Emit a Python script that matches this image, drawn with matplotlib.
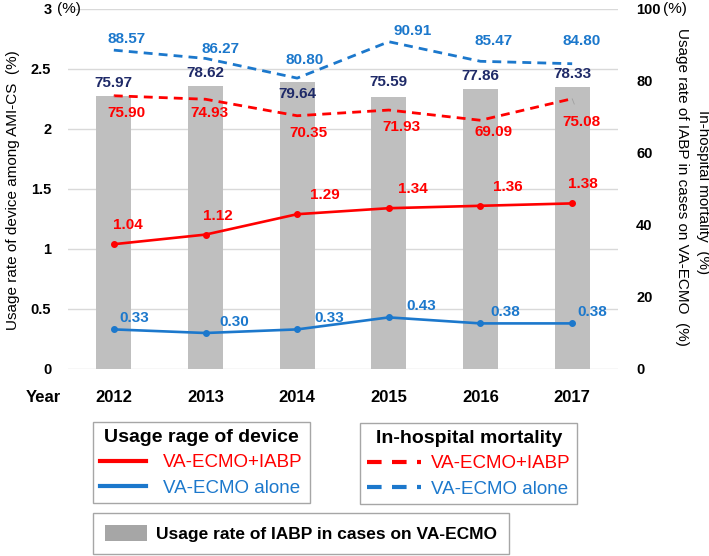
import numpy as np
import matplotlib
matplotlib.use("Agg")
import matplotlib.pyplot as plt
from matplotlib.lines import Line2D
from matplotlib.patches import Patch

plt.rcParams['font.family'] = ['Liberation Sans', 'DejaVu Sans']

# ---------------- data ----------------
years = ['2012', '2013', '2014', '2015', '2016', '2017']
iabp_usage_rate = [75.97, 78.62, 79.64, 75.59, 77.86, 78.33]      # bars, right axis (%)
usage_ecmo_iabp = [1.04, 1.12, 1.29, 1.34, 1.36, 1.38]           # left axis (%)
usage_ecmo_alone = [0.33, 0.30, 0.33, 0.43, 0.38, 0.38]          # left axis (%)
mort_ecmo_iabp = [75.90, 74.93, 70.35, 71.93, 69.09, 75.08]      # right axis (%)
mort_ecmo_alone = [88.57, 86.27, 80.80, 90.91, 85.47, 84.80]     # right axis (%)
left_ticks = [0, 0.5, 1, 1.5, 2, 2.5, 3]
left_tick_labels = ['0', '0.5', '1', '1.5', '2', '2.5', '3']
right_ticks = [0, 20, 40, 60, 80, 100]

# ---------------- styles ----------------
RED = '#FF0000'
BLUE = '#1C78CC'
NAVY = '#1F2A68'
BARC = '#BFBFBF'
GRID = '#D9D9D9'
W, H = 709, 556
PX = 0.72  # points per pixel at 100 dpi

fig = plt.figure(figsize=(W / 100, H / 100), dpi=100)
ax = fig.add_axes([68 / W, 1 - 369 / H, 550 / W, 360 / H])
ax2 = ax.twinx()
ax3 = ax.twinx()

x = np.arange(len(years))
for a in (ax, ax2, ax3):
    a.set_xlim(-0.5, len(years) - 0.5)
    for s in a.spines.values():
        s.set_visible(False)
ax.set_ylim(0, 3)
ax3.set_ylim(0, 3)
ax2.set_ylim(0, 100)

# grid (back axes)
ax.set_yticks(left_ticks)
ax.set_yticklabels(left_tick_labels, fontsize=10.5, fontweight='bold')
ax.yaxis.grid(True, color=GRID, lw=1)
ax.set_axisbelow(True)
ax.tick_params(axis='y', length=0, pad=12)
ax.set_xticks(x)
ax.set_xticklabels(years, fontsize=12, fontweight='bold')
ax.tick_params(axis='x', length=0, pad=15)

ax2.set_yticks(right_ticks)
ax2.set_yticklabels([str(t) for t in right_ticks], fontsize=10.5, fontweight='bold')
ax2.tick_params(axis='y', length=0, pad=13)
ax3.set_yticks([])
ax3.tick_params(axis='both', length=0)

# bars
ax2.bar(x, iabp_usage_rate, width=0.38, color=BARC, zorder=1)
bar_off = [13, 13, -12, 15, 13, 13]
for xi, v, o in zip(x, iabp_usage_rate, bar_off):
    ax2.annotate(f'{v:.2f}', (xi, v), xytext=(0, o * PX), textcoords='offset points',
                 ha='center', va='center', color=NAVY, fontsize=11, fontweight='bold')

# dashed mortality lines
ax2.plot(x, mort_ecmo_iabp, color=RED, lw=2, dashes=(3.2, 2.2), zorder=3)
ax2.plot(x, mort_ecmo_alone, color=BLUE, lw=2, dashes=(3.2, 2.2), zorder=3)
red_d_off = [(13, -17), (4, -14), (11, -17), (13, -17), (13, -12), (9, -23)]
for i, (xi, v, o) in enumerate(zip(x, mort_ecmo_iabp, red_d_off)):
    ap = None
    if i in (0, 5):
        ap = dict(arrowstyle='-', color='#A0A0A0', lw=0.6, shrinkA=6, shrinkB=0)
    ax2.annotate(f'{v:.2f}', (xi, v), xytext=(o[0] * PX, o[1] * PX), textcoords='offset points',
                 ha='center', va='center', color=RED, fontsize=11, fontweight='bold',
                 arrowprops=ap)
blue_d_off = [(13, 11), (15, 9), (7, 18), (24, 11), (13, 20), (9, 23)]
for xi, v, o in zip(x, mort_ecmo_alone, blue_d_off):
    ax2.annotate(f'{v:.2f}', (xi, v), xytext=(o[0] * PX, o[1] * PX), textcoords='offset points',
                 ha='center', va='center', color=BLUE, fontsize=11, fontweight='bold')

# solid usage lines (front axes)
ax3.plot(x, usage_ecmo_iabp, color=RED, lw=1.9, marker='o', markersize=4, zorder=4)
ax3.plot(x, usage_ecmo_alone, color=BLUE, lw=1.9, marker='o', markersize=4, zorder=4)
red_s_off = [14, 12, 28, 24, 27, 11]
for xi, v, o in zip(x, usage_ecmo_iabp, red_s_off):
    ax3.annotate(f'{v:.2f}', (xi, v), xytext=(o * PX, 19 * PX), textcoords='offset points',
                 ha='center', va='center', color=RED, fontsize=11, fontweight='bold')
blue_s_off = [20, 29, 32, 32, 25, 20]
for xi, v, o in zip(x, usage_ecmo_alone, blue_s_off):
    ax3.annotate(f'{v:.2f}', (xi, v), xytext=(o * PX, 11 * PX), textcoords='offset points',
                 ha='center', va='center', color=BLUE, fontsize=11, fontweight='bold')

# (%) markers next to top ticks
fig.text(57 / W, 1 - 9 / H, '(%)', fontsize=11, ha='left', va='center')
fig.text(663 / W, 1 - 9 / H, '(%)', fontsize=11, ha='left', va='center')

# axis titles
fig.text(13 / W, 1 - 190 / H, 'Usage rate of device among AMI-CS  (%)', fontsize=11,
         rotation=90, ha='center', va='center')
fig.text(682 / W, 1 - 187 / H, 'Usage rate of IABP in cases on VA-ECMO  (%)', fontsize=11,
         rotation=270, ha='center', va='center')
fig.text(703 / W, 1 - 192 / H, 'In-hospital mortality  (%)', fontsize=11,
         rotation=270, ha='center', va='center')
fig.text(43 / W, 1 - 398 / H, 'Year', fontsize=12, fontweight='bold', ha='center', va='center')

# legends
common = dict(loc='upper left', frameon=True, fancybox=False, edgecolor='#A6A6A6',
              framealpha=1, borderaxespad=0)
h1 = [Line2D([], [], color=RED, lw=3), Line2D([], [], color=BLUE, lw=3)]
leg1 = fig.legend(handles=h1, labels=['VA-ECMO+IABP', 'VA-ECMO alone'],
                  title='Usage rage of device', bbox_to_anchor=(93 / W, 1 - 422 / H),
                  title_fontproperties={'weight': 'bold', 'size': 14},
                  labelcolor=[RED, BLUE], handlelength=2.5, handletextpad=0.9,
                  labelspacing=0.45, borderpad=0.35, fontsize=13.5, **common)
leg1.get_frame().set_linewidth(1)
h2 = [Line2D([], [], color=RED, lw=3, dashes=(3.5, 2.5)),
      Line2D([], [], color=BLUE, lw=3, dashes=(3.5, 2.5))]
leg2 = fig.legend(handles=h2, labels=['VA-ECMO+IABP', 'VA-ECMO alone'],
                  title='In-hospital mortality', bbox_to_anchor=(360 / W, 1 - 423 / H),
                  title_fontproperties={'weight': 'bold', 'size': 14},
                  labelcolor=[RED, BLUE], handlelength=2.9, handletextpad=0.55,
                  labelspacing=0.45, borderpad=0.35, fontsize=13.5, **common)
leg2.get_frame().set_linewidth(1)
h3 = [Patch(facecolor='#A6A6A6', edgecolor='none')]
leg3 = fig.legend(handles=h3, labels=['Usage rate of IABP in cases on VA-ECMO'],
                  bbox_to_anchor=(93 / W, 1 - 513 / H), prop={'weight': 'bold', 'size': 12.5},
                  handlelength=2.4, handleheight=1.0, handletextpad=0.5, borderpad=0.7,
                  **common)
leg3.get_frame().set_linewidth(1)

fig.savefig('out.png', dpi=100)
